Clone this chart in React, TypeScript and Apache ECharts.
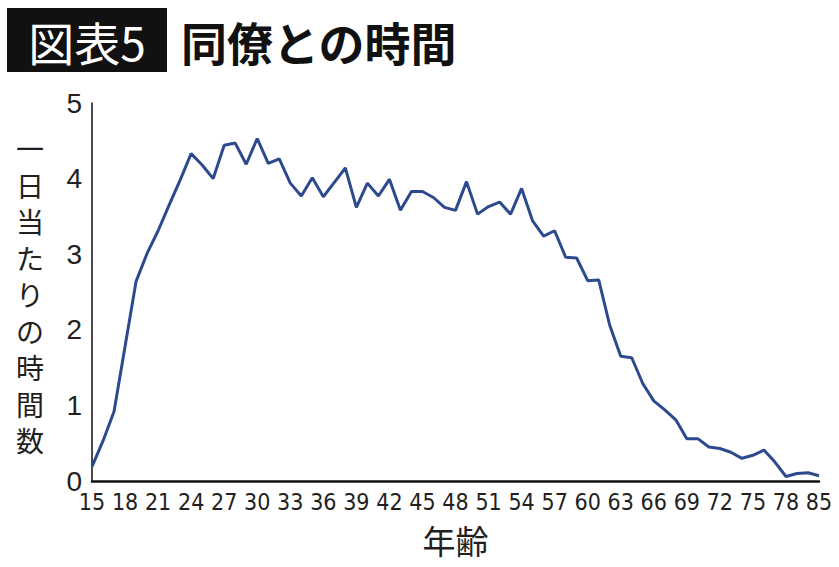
import React, { useEffect, useRef } from "react";
import * as echarts from "echarts";

const ageCategories = [
  "15", "16", "17", "18", "19", "20", "21", "22", "23", "24",
  "25", "26", "27", "28", "29", "30", "31", "32", "33", "34",
  "35", "36", "37", "38", "39", "40", "41", "42", "43", "44",
  "45", "46", "47", "48", "49", "50", "51", "52", "53", "54",
  "55", "56", "57", "58", "59", "60", "61", "62", "63", "64",
  "65", "66", "67", "68", "69", "70", "71", "72", "73", "74",
  "75", "76", "77", "78", "79", "80", "85",
];

const hoursWithColleagues = [
  0.19, 0.53, 0.92, 1.78, 2.64, 3.01, 3.31, 3.65, 3.98, 4.33,
  4.18, 4.0, 4.44, 4.47, 4.19, 4.53, 4.2, 4.26, 3.94, 3.77,
  4.01, 3.76, 3.95, 4.14, 3.62, 3.94, 3.77, 3.99, 3.58, 3.83,
  3.83, 3.75, 3.62, 3.58, 3.96, 3.53, 3.63, 3.69, 3.53, 3.87,
  3.44, 3.24, 3.31, 2.96, 2.95, 2.65, 2.66, 2.06, 1.65, 1.63,
  1.29, 1.06, 0.94, 0.81, 0.56, 0.56, 0.45, 0.43, 0.38, 0.3,
  0.34, 0.41, 0.25, 0.06, 0.1, 0.11, 0.07,
];

const yTicks = { min: 0, max: 5, interval: 1 };

const titleBadge = "図表5";
const titleText = "同僚との時間";
const yAxisTitle = "一日当たりの時間数";
const xAxisTitle = "年齢";

export default function App() {
  const ref = useRef<HTMLDivElement>(null);

  useEffect(() => {
    if (!ref.current) return;
    const chart = echarts.init(ref.current, null, { renderer: "svg" });
    const cjk = "'Noto Sans CJK JP', 'Noto Sans', sans-serif";
    const chars = yAxisTitle.split("");
    const step = 36.5;
    const firstY = 294 - (step * (chars.length - 1)) / 2;
    const yTitle = chars.map((ch, i) => ({
      type: "text",
      x: 30,
      y: firstY + i * step,
      style: {
        text: ch,
        fill: "#231f20",
        fontSize: 28,
        fontFamily: cjk,
        align: "center",
        verticalAlign: "middle",
      },
    }));
    chart.setOption({
      animation: false,
      backgroundColor: "#ffffff",
      grid: { left: 92, right: 20, top: 103, bottom: 86, containLabel: false },
      xAxis: {
        type: "category",
        data: ageCategories,
        boundaryGap: false,
        axisLine: { show: true, lineStyle: { color: "#111111", width: 2.5 } },
        axisTick: { show: false },
        splitLine: { show: false },
        axisLabel: {
          interval: 2,
          margin: 9,
          color: "#231f20",
          fontSize: 23,
          fontFamily: "'Liberation Sans Narrow', 'DejaVu Sans Condensed', 'Liberation Sans', sans-serif",
        },
        name: xAxisTitle,
        nameLocation: "middle",
        nameGap: 42,
        nameTextStyle: { color: "#231f20", fontSize: 33, fontFamily: cjk },
      },
      yAxis: {
        type: "value",
        min: yTicks.min,
        max: yTicks.max,
        interval: yTicks.interval,
        axisLine: { show: true, lineStyle: { color: "#111111", width: 1.5 } },
        axisTick: { show: false },
        splitLine: { show: false },
        axisLabel: {
          margin: 10,
          color: "#231f20",
          fontSize: 28,
          fontFamily: "'Liberation Sans', Arial, sans-serif",
        },
      },
      graphic: [
        {
          type: "rect",
          shape: { x: 7, y: 8, width: 160, height: 64 },
          style: { fill: "#111111" },
        },
        {
          type: "text",
          x: 87,
          y: 41,
          style: {
            text: titleBadge,
            fill: "#ffffff",
            fontSize: 46,
            fontFamily: cjk,
            align: "center",
            verticalAlign: "middle",
          },
        },
        {
          type: "text",
          x: 181,
          y: 41,
          style: {
            text: titleText,
            fill: "#111111",
            fontSize: 46,
            fontWeight: "bold",
            fontFamily: cjk,
            align: "left",
            verticalAlign: "middle",
          },
        },
        ...yTitle,
      ],
      series: [
        {
          type: "line",
          data: hoursWithColleagues,
          symbol: "none",
          smooth: false,
          lineStyle: { color: "#2e4a8e", width: 3 },
          itemStyle: { color: "#2e4a8e" },
        },
      ],
    });
    return () => chart.dispose();
  }, []);

  return (
    <div
      ref={ref}
      style={{ position: "fixed", left: 0, top: 0, width: 839, height: 567 }}
    />
  );
}
